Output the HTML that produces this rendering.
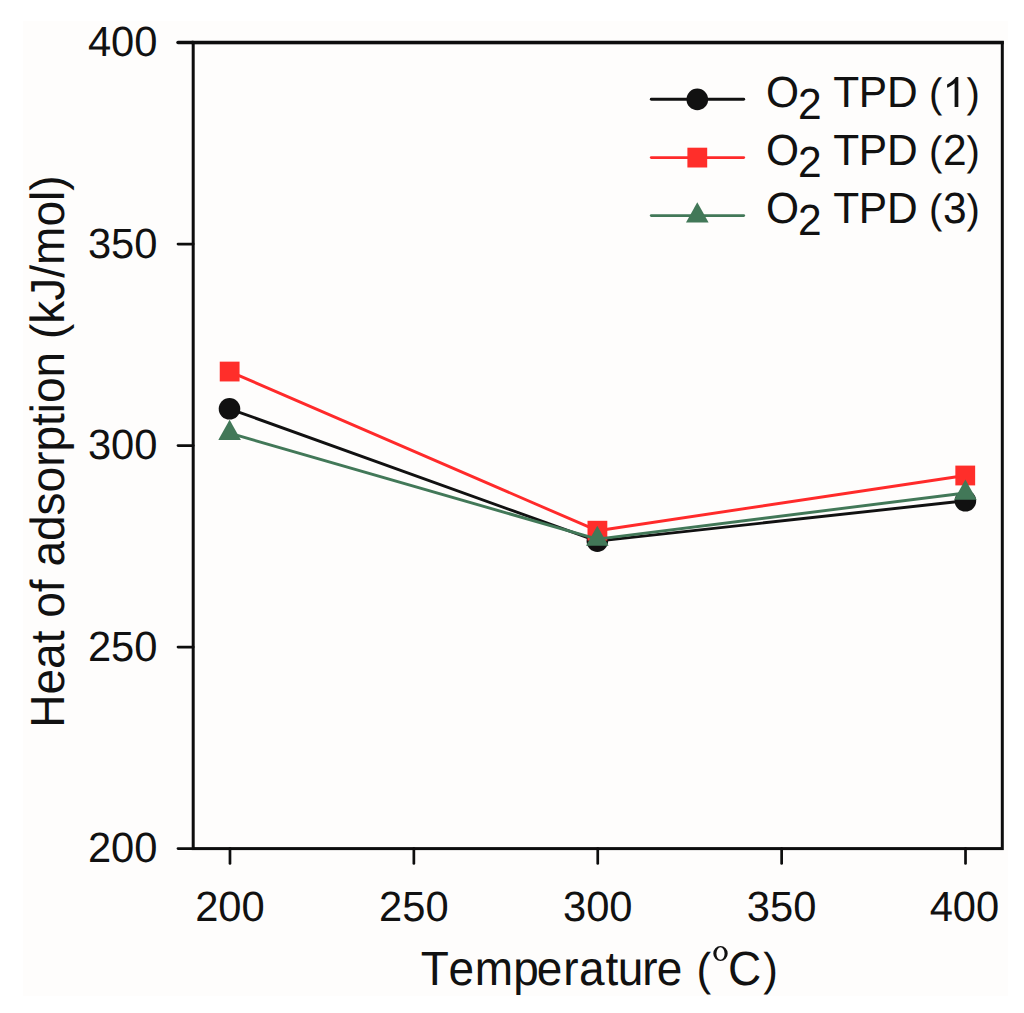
<!DOCTYPE html>
<html><head><meta charset="utf-8">
<style>
html,body{margin:0;padding:0;background:#ffffff;width:1024px;height:1013px;overflow:hidden;}
svg{display:block;}
text{font-family:"Liberation Sans", sans-serif;fill:#111;font-kerning:none;text-rendering:geometricPrecision;}
</style></head>
<body>
<svg width="1024" height="1013" viewBox="0 0 1024 1013">
<rect x="23" y="21" width="985" height="975" fill="#fefdfc"/>
<rect x="193.2" y="42.6" width="809.1" height="806" fill="none" stroke="#0d0d0d" stroke-width="3.0"/>
<line x1="191.7" y1="42.5" x2="1003.8" y2="42.5" stroke="#0d0d0d" stroke-width="3.5"/>
<g stroke="#0d0d0d" stroke-width="2.7" stroke-linecap="round"><line x1="178" y1="848.6" x2="193.2" y2="848.6"/><line x1="178" y1="647.1" x2="193.2" y2="647.1"/><line x1="178" y1="445.6" x2="193.2" y2="445.6"/><line x1="178" y1="244.1" x2="193.2" y2="244.1"/><line x1="178" y1="42.5" x2="193.2" y2="42.5" stroke-width="3.5"/><line x1="229.98" y1="848.6" x2="229.98" y2="863.5"/><line x1="413.86" y1="848.6" x2="413.86" y2="863.5"/><line x1="597.75" y1="848.6" x2="597.75" y2="863.5"/><line x1="781.64" y1="848.6" x2="781.64" y2="863.5"/><line x1="965.52" y1="848.6" x2="965.52" y2="863.5"/></g>
<g font-size="41.7" text-anchor="end"><text x="157.5" y="56" transform="matrix(1 0 0 1.015 0 -0.840)">400</text><text x="157.5" y="258" transform="matrix(1 0 0 1.015 0 -3.870)">350</text><text x="157.5" y="459" transform="matrix(1 0 0 1.015 0 -6.885)">300</text><text x="157.5" y="661" transform="matrix(1 0 0 1.015 0 -9.915)">250</text><text x="157.5" y="862" transform="matrix(1 0 0 1.015 0 -12.930)">200</text></g>
<g font-size="41.7" text-anchor="middle"><text x="229.98" y="921" transform="matrix(1 0 0 1.015 0 -13.815)">200</text><text x="413.86" y="921" transform="matrix(1 0 0 1.015 0 -13.815)">250</text><text x="597.75" y="921" transform="matrix(1 0 0 1.015 0 -13.815)">300</text><text x="781.64" y="921" transform="matrix(1 0 0 1.015 0 -13.815)">350</text><text x="964.42" y="921" transform="matrix(1 0 0 1.015 0 -13.815)">400</text></g>
<text font-size="46" y="985" transform="matrix(1 0 0 1.046 0 -45.310)"><tspan x="420.70 448.40 474.80 513.20 536.80 563.20 578.90 605.40 617.80 642.20 656.80">Temperature</tspan><tspan font-size="44" x="696.6">(</tspan><tspan x="728.1" y="985">C</tspan><tspan font-size="44" x="763.2">)</tspan></text>
<path d="M713.30,953.55 a7.2,7.5 0 1,0 14.4,0 a7.2,7.5 0 1,0 -14.4,0 Z M716.40,953.55 a4.1,6.2 0 1,0 8.2,0 a4.1,6.2 0 1,0 -8.2,0 Z " fill="#111" fill-rule="evenodd"/>
<text font-size="46" transform="translate(64.3,727.7) rotate(-90) scale(1,1.04)">Heat of adsorption (kJ/mol)</text>
<polyline points="229.5,408.8 597.35,541.1 965.4,500.8" fill="none" stroke="#111111" stroke-width="2.9" stroke-linejoin="round"/>
<circle cx="229.5" cy="408.8" r="10.8" fill="#111111"/>
<circle cx="597.35" cy="541.1" r="10.8" fill="#111111"/>
<circle cx="965.4" cy="500.8" r="10.8" fill="#111111"/>
<polyline points="229.65,371.55 597.4,530.7 965.25,475.5" fill="none" stroke="#ff2a2a" stroke-width="2.9" stroke-linejoin="round"/>
<rect x="219.75" y="361.65" width="19.8" height="19.8" fill="#ff2e2a"/>
<rect x="587.5" y="520.8" width="19.8" height="19.8" fill="#ff2e2a"/>
<rect x="955.35" y="465.6" width="19.8" height="19.8" fill="#ff2e2a"/>
<polyline points="229.6,433.2 597.3,539.1 965.4,493" fill="none" stroke="#427858" stroke-width="2.9" stroke-linejoin="round"/>
<path d="M229.6,419.8 L240.9,439.9 L218.3,439.9 Z" fill="#427858"/>
<path d="M597.3,525.7 L608.6,545.8 L586,545.8 Z" fill="#427858"/>
<path d="M965.4,479.6 L976.7,499.7 L954.1,499.7 Z" fill="#427858"/>
<line x1="651.3" y1="99.2" x2="743.7" y2="99.2" stroke="#111111" stroke-width="2.9" stroke-linecap="round"/>
<circle cx="697.3" cy="99.4" r="10.8" fill="#111111"/>
<line x1="651.3" y1="157.6" x2="743.7" y2="157.6" stroke="#ff2a2a" stroke-width="2.9" stroke-linecap="round"/>
<rect x="687.4" y="147.7" width="19.8" height="19.8" fill="#ff2e2a"/>
<line x1="651.3" y1="215.6" x2="743.7" y2="215.6" stroke="#427858" stroke-width="2.9" stroke-linecap="round"/>
<path d="M697.3,202.3 L708.6,222.4 L686,222.4 Z" fill="#427858"/>
<g font-size="42.5"><text y="107" transform="matrix(1 0 0 1.026 0 -2.782)"><tspan x="766.09">O</tspan><tspan x="797.96" y="119">2</tspan><tspan y="107" x="833.35 858.71 886.91">TPD</tspan><tspan font-size="40" x="928.9">(</tspan><tspan font-size="40" x="966.6">)</tspan></text><path d="M958.33,107.00 L954.60,107.00 L954.60,83.20 Q953.25,84.48 951.05,85.77 Q948.85,87.06 947.09,87.70 L947.09,84.48 Q950.22,82.93 952.56,80.81 Q954.91,78.78 955.89,77.01 L958.33,77.01 Z" fill="#111"/><text y="165" transform="matrix(1 0 0 1.026 0 -4.290)"><tspan x="766.09">O</tspan><tspan x="797.96" y="177">2</tspan><tspan y="165" x="833.35 858.71 886.91">TPD</tspan><tspan font-size="40" x="928.9">(</tspan><tspan x="943.06">2</tspan><tspan font-size="40" x="966.6">)</tspan></text><text y="223" transform="matrix(1 0 0 1.026 0 -5.798)"><tspan x="766.09">O</tspan><tspan x="797.96" y="235">2</tspan><tspan y="223" x="833.35 858.71 886.91">TPD</tspan><tspan font-size="40" x="928.9">(</tspan><tspan x="943.06">3</tspan><tspan font-size="40" x="966.6">)</tspan></text></g>
</svg>
</body></html>
